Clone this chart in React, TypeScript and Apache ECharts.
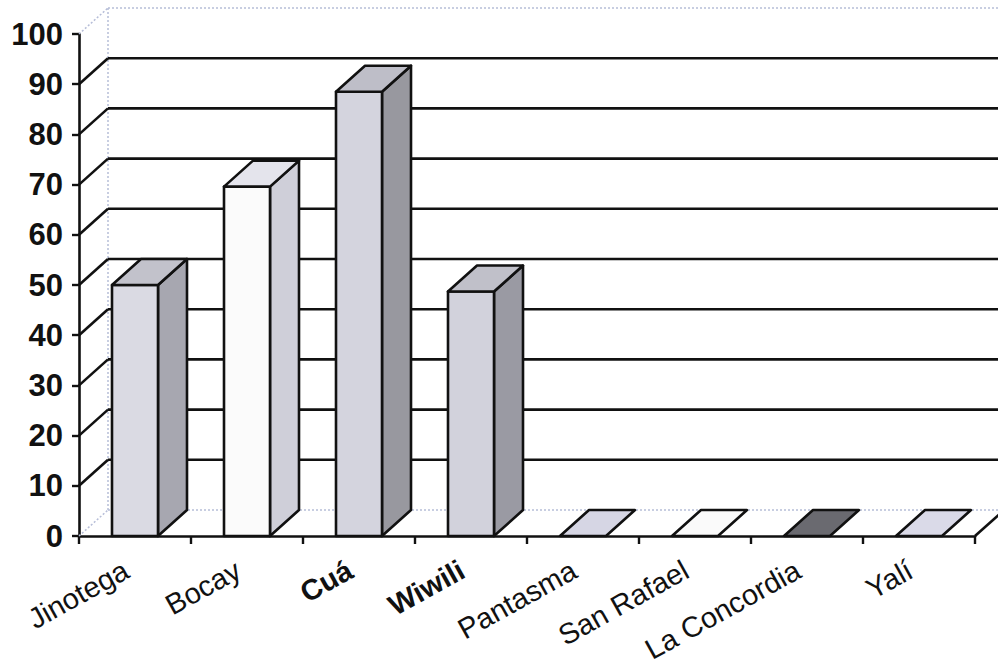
import React, { useEffect, useRef } from "react";
import * as echarts from "echarts";

// Municipalities and their values
const categories = ["Jinotega", "Bocay", "Cuá", "Wiwili", "Pantasma", "San Rafael", "La Concordia", "Yalí"];
const values = [50, 69.6, 88.5, 48.7, 0, 0, 0, 0];
const yTicks = [0, 10, 20, 30, 40, 50, 60, 70, 80, 90, 100];

// Per-bar face shading (front, side, top)
const frontColors = ["#dadae3", "#fbfbfb", "#d4d4de", "#d2d2dc", "#d6d6e4", "#fafafa", "#6a6a70", "#dadae8"];
const sideColors = ["#a7a7b0", "#cfcfd9", "#98989f", "#9a9aa3", "#a9a9b3", "#d0d0d8", "#505056", "#a9a9b3"];
const topColors = ["#c2c2cb", "#e4e4ec", "#bebec8", "#c0c0c9", "#d6d6e4", "#fafafa", "#6a6a70", "#dadae8"];

// Oblique projection of the depth axis, in pixels
const DX = 29;
const DY = -26;
const BAR_W = 46;

const INK = "#111111";
const FAINT = "#b7bed8";

export default function App() {
  const ref = useRef<HTMLDivElement>(null);

  useEffect(() => {
    if (!ref.current) return;
    const chart = echarts.init(ref.current, null, { renderer: "svg" });

    const wallsRender = (params: any, api: any) => {
      const cs = params.coordSys;
      const left = cs.x;
      const right = cs.x + cs.width;
      const yOf = (t: number) => api.coord([0, t])[1];
      const yMin = yOf(yTicks[0]);
      const yMax = yOf(yTicks[yTicks.length - 1]);
      const children: any[] = [];
      const faint = { stroke: FAINT, lineWidth: 1.5, lineDash: [2, 2], fill: "none" };
      const solid = { stroke: INK, lineWidth: 2.6, fill: "none" };

      // back wall outline (top edge, left vertical edge, floor back edge)
      children.push({ type: "line", shape: { x1: left + DX, y1: yMax + DY, x2: right + DX + 40, y2: yMax + DY }, style: faint });
      children.push({ type: "line", shape: { x1: left + DX, y1: yMax + DY, x2: left + DX, y2: yMin + DY }, style: faint });
      children.push({ type: "line", shape: { x1: left + DX, y1: yMin + DY, x2: right + DX + 40, y2: yMin + DY }, style: faint });
      // side wall top edge and floor edges
      children.push({ type: "line", shape: { x1: left, y1: yMax, x2: left + DX, y2: yMax + DY }, style: faint });
      children.push({ type: "line", shape: { x1: left, y1: yMin, x2: left + DX, y2: yMin + DY }, style: faint });
      children.push({ type: "line", shape: { x1: right, y1: yMin, x2: right + DX, y2: yMin + DY }, style: solid });

      // gridlines on the side and back walls
      yTicks.forEach((t) => {
        if (t === yTicks[0] || t === yTicks[yTicks.length - 1]) return;
        const y = yOf(t);
        children.push({ type: "line", shape: { x1: left, y1: y, x2: left + DX, y2: y + DY }, style: solid });
        children.push({ type: "line", shape: { x1: left + DX, y1: y + DY, x2: right + DX + 40, y2: y + DY }, style: solid });
      });
      return { type: "group", children };
    };

    const barRender = (params: any, api: any) => {
      const i = api.value(0);
      const v = api.value(1);
      const [cx, yTop] = api.coord([i, v]);
      const y0 = api.coord([i, 0])[1];
      const x0 = cx - BAR_W / 2;
      const x1 = cx + BAR_W / 2;
      const edge = { stroke: INK, lineWidth: 2.6, lineJoin: "round" };
      const children: any[] = [];
      if (v > 0) {
        children.push({
          type: "polygon",
          shape: { points: [[x1, yTop], [x1 + DX, yTop + DY], [x1 + DX, y0 + DY], [x1, y0]] },
          style: { fill: sideColors[i], ...edge },
        });
        children.push({
          type: "rect",
          shape: { x: x0, y: yTop, width: BAR_W, height: y0 - yTop },
          style: { fill: frontColors[i], ...edge },
        });
      }
      children.push({
        type: "polygon",
        shape: { points: [[x0, yTop], [x1, yTop], [x1 + DX, yTop + DY], [x0 + DX, yTop + DY]] },
        style: { fill: topColors[i], ...edge },
      });
      return { type: "group", children };
    };

    chart.setOption({
      animation: false,
      backgroundColor: "#ffffff",
      grid: { left: 79, right: 23, top: 34, bottom: 135, containLabel: false, outerBoundsMode: "none" },
      xAxis: {
        type: "category",
        data: categories,
        boundaryGap: true,
        axisLine: { show: true, lineStyle: { color: INK, width: 2.6 } },
        axisTick: { show: true, length: 8, lineStyle: { color: INK, width: 2.4 } },
        axisLabel: {
          interval: 0,
          rotate: 29,
          margin: 27,
          padding: [0, 10, 0, 0],
          color: INK,
          fontFamily: "Liberation Sans",
          fontSize: 29,
          formatter: (s: string) => (s === "Cuá" || s === "Wiwili" ? `{b|${s}}` : s),
          rich: { b: { fontWeight: "bold", fontFamily: "Liberation Sans", fontSize: 29, color: INK } },
        },
        splitLine: { show: false },
      },
      yAxis: {
        type: "value",
        min: yTicks[0],
        max: yTicks[yTicks.length - 1],
        interval: 10,
        axisLine: { show: true, lineStyle: { color: INK, width: 2.6 } },
        axisTick: { show: true, length: 7, lineStyle: { color: INK, width: 2.4 } },
        axisLabel: {
          margin: 16,
          color: INK,
          fontFamily: "Liberation Sans",
          fontWeight: "bold",
          fontSize: 31,
        },
        splitLine: { show: false },
      },
      series: [
        {
          type: "custom",
          name: "walls",
          z: 1,
          silent: true,
          clip: false,
          renderItem: wallsRender,
          data: [[0, 0]],
        },
        {
          type: "custom",
          name: "bars",
          z: 5,
          clip: false,
          renderItem: barRender,
          encode: { x: 0, y: 1 },
          data: values.map((v, i) => [i, v]),
        },
      ],
    });

    return () => chart.dispose();
  }, []);

  return (
    <div
      ref={ref}
      style={{ position: "fixed", left: 0, top: 0, width: 998, height: 671, background: "#fff" }}
    />
  );
}
